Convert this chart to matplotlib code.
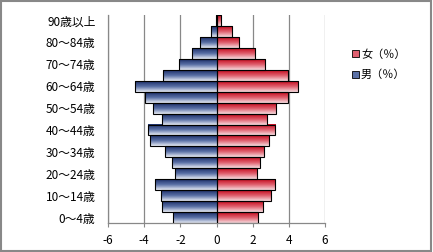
import numpy as np
import matplotlib
matplotlib.use("Agg")
import matplotlib.pyplot as plt
from matplotlib.colors import LinearSegmentedColormap
from matplotlib.patches import Patch, Rectangle

plt.rcParams['font.family'] = ['Noto Sans CJK JP', 'DejaVu Sans']

# --- data (bottom -> top) ---
age_groups = ["0～4歳", "5～9歳", "10～14歳", "15～19歳", "20～24歳", "25～29歳",
              "30～34歳", "35～39歳", "40～44歳", "45～49歳", "50～54歳", "55～59歳",
              "60～64歳", "65～69歳", "70～74歳", "75～79歳", "80～84歳", "85～89歳",
              "90歳以上"]
male = [2.41, 3.02, 3.08, 3.41, 2.28, 2.47, 2.83, 3.65, 3.79, 3.02,
        3.52, 3.96, 4.51, 2.96, 2.06, 1.36, 0.92, 0.29, 0.05]
female = [2.28, 2.56, 3.00, 3.22, 2.23, 2.43, 2.60, 2.89, 3.22, 2.78,
          3.28, 3.94, 4.49, 3.94, 2.67, 2.12, 1.27, 0.85, 0.24]
x_ticks = [-6, -4, -2, 0, 2, 4, 6]
label_female = "女（％）"
label_male = "男（％）"

# gradient colormaps: dark at top of each bar, light at bottom
cmap_m = LinearSegmentedColormap.from_list("m", ["#1c2f68", "#5a70a6", "#e8ecf5"])
cmap_f = LinearSegmentedColormap.from_list("f", ["#c40a1e", "#e0606e", "#f7dde0"])
grad = np.linspace(0, 1, 64).reshape(-1, 1)

fig = plt.figure(figsize=(4.33, 2.52), dpi=100)
ax = fig.add_axes([0.2494, 0.115, 0.5012, 0.825])

y = np.arange(len(age_groups))
h = 1.0
for i in y:
    ax.imshow(grad, extent=[-male[i], 0, i - h / 2, i + h / 2], aspect='auto',
              cmap=cmap_m, zorder=2, interpolation='bilinear')
    ax.imshow(grad, extent=[0, female[i], i - h / 2, i + h / 2], aspect='auto',
              cmap=cmap_f, zorder=2, interpolation='bilinear')
ax.barh(y, [-v for v in male], height=h, fill=False, edgecolor='black', lw=0.8, zorder=3)
ax.barh(y, female, height=h, fill=False, edgecolor='black', lw=0.8, zorder=3)

ax.set_xlim(-6, 6)
ax.set_ylim(-0.5, len(age_groups) - 0.5)
ax.set_xticks(x_ticks)
ax.set_xticklabels([str(t) for t in x_ticks], fontsize=8.5)
ax.set_yticks(y[::2])
ax.set_yticklabels(age_groups[::2], fontsize=8.5)
ax.tick_params(axis='y', length=0, pad=9)
ax.tick_params(axis='x', length=3, width=0.8, color='#888888', pad=5, direction='out')
ax.grid(axis='x', color='#888888', lw=0.9, zorder=0)
ax.set_axisbelow(True)
for s in ['top', 'right']:
    ax.spines[s].set_visible(False)
for s in ['left', 'bottom']:
    ax.spines[s].set_color('#888888')
    ax.spines[s].set_linewidth(0.9)

handles = [Patch(facecolor="#e06070", edgecolor='black', lw=0.6),
           Patch(facecolor="#5a70a6", edgecolor='black', lw=0.6)]
fig.legend(handles, [label_female, label_male], loc='upper left',
           bbox_to_anchor=(0.79, 0.845), frameon=False, fontsize=8,
           handlelength=0.6, handleheight=0.6, handletextpad=0.2, labelspacing=0.9)

fig.patches.append(Rectangle((0.002, 0.004), 0.994, 0.992, transform=fig.transFigure,
                             fill=False, edgecolor='#888888', lw=1.5))

fig.savefig("out.png", dpi=100)
